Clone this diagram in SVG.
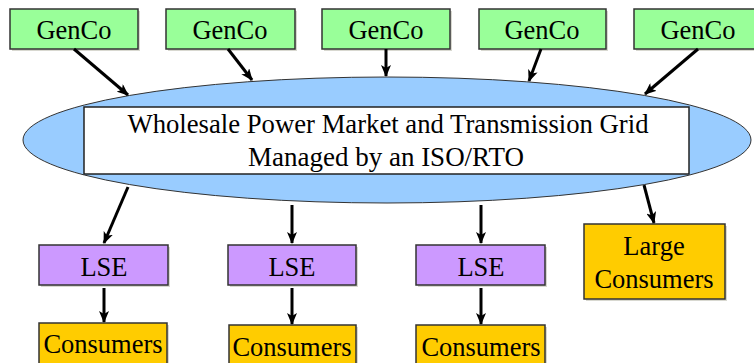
<svg xmlns="http://www.w3.org/2000/svg" width="754" height="363" viewBox="0 0 754 363">
<defs>
<marker id="ah" viewBox="0 0 12 10" refX="11" refY="5" markerWidth="12" markerHeight="10" markerUnits="userSpaceOnUse" orient="auto">
<path d="M0,0 L12,5 L0,10 L3,5 Z" fill="#000"/>
</marker>
</defs>
<style>
text{font-family:"Liberation Serif","Times New Roman",serif;font-size:26.5px;fill:#000;text-anchor:middle}
.box{stroke:#333;stroke-width:1.5}
.sh{fill:#d8d8d0}
.gen{fill:#99FF99}
.lse{fill:#CC99FF}
.con{fill:#FFCC00}
.conn line{stroke:#000;stroke-width:3;marker-end:url(#ah)}
</style>
<rect width="754" height="363" fill="#fff"/>
<g id="market">
<ellipse cx="387" cy="140" rx="364" ry="63" fill="#99CCFF" stroke="#333" stroke-width="1"/>
<rect x="84" y="107" width="605" height="67" fill="#fff" stroke="#222" stroke-width="1.5"/>
<text x="388" y="133" font-size="26" textLength="521" lengthAdjust="spacingAndGlyphs">Wholesale Power Market and Transmission Grid</text>
<text x="386" y="166" font-size="26" textLength="276" lengthAdjust="spacingAndGlyphs">Managed by an ISO/RTO</text>
</g>
<g id="genco1"><rect class="sh" x="12" y="11" width="128" height="40"/><rect class="box gen" x="10" y="9" width="128" height="40"/><text x="74" y="39">GenCo</text></g>
<g id="genco2"><rect class="sh" x="168" y="11" width="129" height="40"/><rect class="box gen" x="166" y="9" width="129" height="40"/><text x="230" y="39">GenCo</text></g>
<g id="genco3"><rect class="sh" x="324" y="11" width="128" height="40"/><rect class="box gen" x="322" y="9" width="128" height="40"/><text x="386" y="39">GenCo</text></g>
<g id="genco4"><rect class="sh" x="481" y="11" width="127" height="40"/><rect class="box gen" x="479" y="9" width="127" height="40"/><text x="542" y="39">GenCo</text></g>
<g id="genco5"><rect class="sh" x="636" y="11" width="128" height="40"/><rect class="box gen" x="634" y="9" width="128" height="40"/><text x="698" y="39">GenCo</text></g>
<g id="lse1"><rect class="sh" x="41" y="247" width="129" height="40"/><rect class="box lse" x="39" y="245" width="129" height="40"/><text x="104" y="276">LSE</text></g>
<g id="lse2"><rect class="sh" x="230" y="247" width="128" height="40"/><rect class="box lse" x="228" y="245" width="128" height="40"/><text x="292" y="276">LSE</text></g>
<g id="lse3"><rect class="sh" x="418" y="247" width="129" height="40"/><rect class="box lse" x="416" y="245" width="129" height="40"/><text x="481" y="276">LSE</text></g>
<g id="consumers1"><rect class="sh" x="41" y="325" width="128" height="50"/><rect class="box con" x="39" y="323" width="128" height="50"/><text x="103" y="353">Consumers</text></g>
<g id="consumers2"><rect class="sh" x="231" y="327" width="127" height="50"/><rect class="box con" x="229" y="325" width="127" height="50"/><text x="292" y="356">Consumers</text></g>
<g id="consumers3"><rect class="sh" x="418" y="327" width="129" height="50"/><rect class="box con" x="416" y="325" width="129" height="50"/><text x="481" y="356">Consumers</text></g>
<g id="large"><rect class="sh" x="586" y="226" width="141" height="75"/><rect class="box con" x="584" y="224" width="141" height="75"/><text x="654" y="255">Large</text><text x="654" y="288">Consumers</text></g>
<g id="connectors" class="conn">
<line x1="74" y1="49" x2="128" y2="95"/>
<line x1="228" y1="49" x2="252" y2="80"/>
<line x1="386" y1="49" x2="386" y2="76"/>
<line x1="541" y1="49" x2="529" y2="81"/>
<line x1="698" y1="49" x2="645" y2="94"/>
<line x1="128" y1="187" x2="104" y2="243"/>
<line x1="292" y1="205" x2="292" y2="243"/>
<line x1="481" y1="205" x2="481" y2="243"/>
<line x1="644" y1="185" x2="654" y2="223"/>
<line x1="104" y1="288" x2="104" y2="322"/>
<line x1="292" y1="288" x2="292" y2="324"/>
<line x1="481" y1="288" x2="481" y2="324"/>
</g>
</svg>
